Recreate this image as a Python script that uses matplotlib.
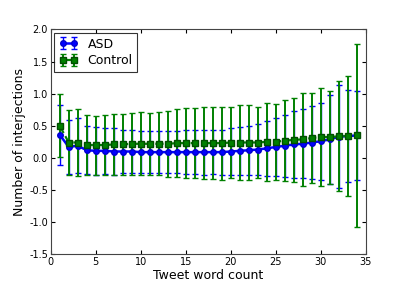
import matplotlib
matplotlib.use("Agg")
import matplotlib.pyplot as plt

# tweet word count
words = list(range(1, 35))

asd_mean = [0.36, 0.17, 0.19, 0.12, 0.11, 0.11, 0.10, 0.10, 0.10, 0.09,
            0.09, 0.09, 0.09, 0.09, 0.09, 0.09, 0.09, 0.09, 0.09, 0.10,
            0.11, 0.12, 0.13, 0.15, 0.17, 0.19, 0.21, 0.22, 0.24, 0.26,
            0.29, 0.33, 0.34, 0.35]
asd_err = [0.47, 0.42, 0.43, 0.37, 0.37, 0.36, 0.36, 0.34, 0.33, 0.33,
           0.33, 0.33, 0.33, 0.33, 0.34, 0.34, 0.35, 0.34, 0.35, 0.36,
           0.37, 0.38, 0.40, 0.43, 0.45, 0.48, 0.52, 0.54, 0.57, 0.60,
           0.69, 0.80, 0.71, 0.69]

ctrl_mean = [0.50, 0.24, 0.24, 0.20, 0.20, 0.20, 0.21, 0.21, 0.22, 0.22,
             0.22, 0.22, 0.22, 0.23, 0.23, 0.23, 0.23, 0.23, 0.23, 0.24,
             0.24, 0.24, 0.24, 0.25, 0.25, 0.27, 0.28, 0.29, 0.31, 0.33,
             0.32, 0.34, 0.34, 0.35]
ctrl_err = [0.49, 0.50, 0.52, 0.47, 0.46, 0.47, 0.47, 0.47, 0.48, 0.49,
            0.48, 0.49, 0.51, 0.53, 0.54, 0.55, 0.56, 0.56, 0.57, 0.56,
            0.58, 0.58, 0.56, 0.61, 0.59, 0.63, 0.66, 0.72, 0.70, 0.76,
            0.72, 0.86, 0.93, 1.42]

fig = plt.figure(figsize=(4.07, 2.91), dpi=100)
ax = fig.add_axes([0.1246, 0.126, 0.7746, 0.773])

ax.errorbar(words, asd_mean, yerr=asd_err, color=(0, 0, 1), marker='o',
            markersize=4, linewidth=1.8, elinewidth=1.0, capsize=2,
            markeredgecolor=(0, 0, 0.8), label='ASD')
ax.errorbar(words, ctrl_mean, yerr=ctrl_err, color=(0, 0.5, 0), marker='s',
            markersize=4.5, linewidth=1.6, linestyle='--', elinewidth=1.4,
            capsize=2, markeredgecolor=(0, 0.3, 0), label='Control')

ax.set_xlim(0, 35)
ax.set_ylim(-1.5, 2.0)
ax.set_xticks(range(0, 36, 5))
ax.set_yticks([-1.5, -1.0, -0.5, 0.0, 0.5, 1.0, 1.5, 2.0])
ax.set_yticklabels(['-1.5', '-1.0', '-0.5', '0.0', '0.5', '1.0', '1.5', '2.0'])
ax.tick_params(direction='in', top=True, right=True, length=3, labelsize=7, pad=2)
for s in ax.spines.values():
    s.set_color('#444444')

ax.set_xlabel('Tweet word count', fontsize=9, labelpad=1)
ax.set_ylabel('Number of interjections', fontsize=9, labelpad=2)

leg = ax.legend(loc='upper left', numpoints=2, fontsize=9, fancybox=False,
                handlelength=1.5, borderaxespad=0.3, borderpad=0.35,
                labelspacing=0.3, handletextpad=0.8)
leg.get_frame().set_edgecolor('black')
leg.get_frame().set_linewidth(0.8)

fig.savefig('out.png', dpi=100)
